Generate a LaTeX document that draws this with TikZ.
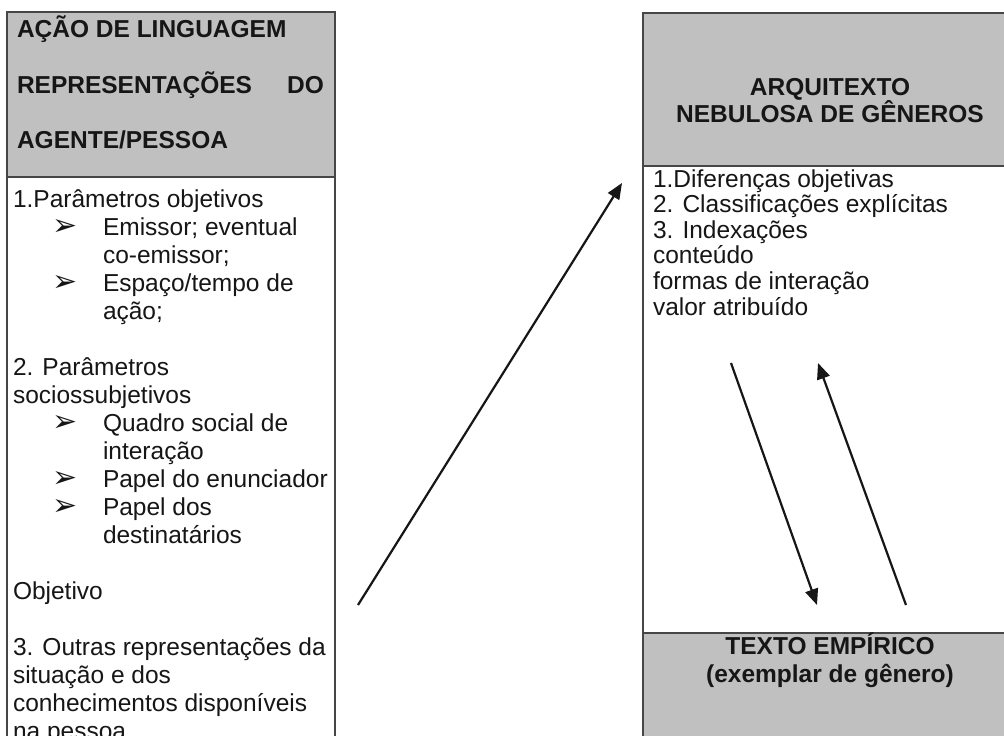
\documentclass[tikz,border=0pt]{standalone}
\usepackage{fontspec}
\setmainfont{Liberation Sans}
\newfontfamily\dejavu{DejaVu Sans}
\usetikzlibrary{arrows.meta}
\definecolor{hdrgray}{RGB}{192,192,192}
\definecolor{ink}{RGB}{22,22,22}
\definecolor{edge}{RGB}{70,70,70}
\newcommand{\bulsym}{{\dejavu\fontsize{30}{30}\selectfont ➢}}
\begin{document}
\begin{tikzpicture}[x=1pt,y=-1pt,
  txt/.style={anchor=base west, inner sep=0pt, outer sep=0pt, text=ink, font=\fontsize{24.5}{28}\selectfont},
  hd/.style={txt, font=\bfseries\fontsize{24.5}{28}\selectfont},
  ctr/.style={hd, anchor=base},
  bul/.style={anchor=base west, inner sep=0pt, outer sep=0pt, text=ink},
  arr/.style={line width=2.2pt, draw=ink, -{Triangle[length=16pt,width=13pt]}},
  boxline/.style={draw=edge, line width=1.6pt}]
\useasboundingbox (0,0) rectangle (1004,736);
\clip (0,0) rectangle (1004,736);
\fill[white] (0,0) rectangle (1004,736);

% ---------- left box ----------
\fill[hdrgray] (7,12) rectangle (335,177);
\draw[boxline] (7,770) -- (7,12) -- (335,12) -- (335,770);
\draw[boxline] (7,177) -- (335,177);

\node[hd] (lh1) at (17,37) {AÇÃO DE LINGUAGEM};
\node[hd] (lh2) at (17,93) {\hbox to 307pt{REPRESENTAÇÕES\hfil DO}};
\node[hd] (lh3) at (17,148) {AGENTE/PESSOA};

\node[txt] (l1)  at (13,207) {1.Parâmetros objetivos};
\node[bul] (b1)  at (52,235) {\bulsym};
\node[txt] (l2)  at (103,235) {Emissor; eventual};
\node[txt] (l3)  at (103,263) {co-emissor;};
\node[bul] (b2)  at (52,291) {\bulsym};
\node[txt] (l4)  at (103,291) {Espaço/tempo de};
\node[txt] (l5)  at (103,319) {ação;};
\node[txt] (l6)  at (13,375) {2. Parâmetros};
\node[txt] (l7)  at (13,403) {sociossubjetivos};
\node[bul] (b3)  at (52,431) {\bulsym};
\node[txt] (l8)  at (103,431) {Quadro social de};
\node[txt] (l9)  at (103,459) {interação};
\node[bul] (b4)  at (52,487) {\bulsym};
\node[txt] (l10) at (103,487) {Papel do enunciador};
\node[bul] (b5)  at (52,515) {\bulsym};
\node[txt] (l11) at (103,515) {Papel dos};
\node[txt] (l12) at (103,543) {destinatários};
\node[txt] (l13) at (13,599) {Objetivo};
\node[txt] (l14) at (13,655) {3. Outras representações da};
\node[txt] (l15) at (13,683) {situação e dos};
\node[txt] (l16) at (13,711) {conhecimentos disponíveis};
\node[txt] (l17) at (13,739) {na pessoa};

% ---------- right box ----------
\fill[hdrgray] (643,13) rectangle (1017,166);
\fill[hdrgray] (643,633) rectangle (1017,770);
\draw[boxline] (643,770) -- (643,13) -- (1017,13);
\draw[boxline] (643,166) -- (1017,166);
\draw[boxline] (643,633) -- (1017,633);

\node[ctr] (rh1) at (830,95) {ARQUITEXTO};
\node[ctr] (rh2) at (830,122) {NEBULOSA DE GÊNEROS};

\node[txt] (r1) at (653,187) {1.Diferenças objetivas};
\node[txt] (r2) at (653,212.6) {2. Classificações explícitas};
\node[txt] (r3) at (653,238.2) {3. Indexações};
\node[txt] (r4) at (653,263.8) {conteúdo};
\node[txt] (r5) at (653,289.4) {formas de interação};
\node[txt] (r6) at (653,315) {valor atribuído};

\node[ctr] (t1) at (830,654) {TEXTO EMPÍRICO};
\node[ctr] (t2) at (830,682) {(exemplar de gênero)};

% ---------- arrows ----------
\coordinate (m0) at (358,605);
\coordinate (m1) at (622,183);
\coordinate (d0) at (731,363);
\coordinate (d1) at (817,605);
\coordinate (u0) at (906,605);
\coordinate (u1) at (818,363);
\draw[arr] (m0) -- (m1);
\draw[arr] (d0) -- (d1);
\draw[arr] (u0) -- (u1);
\end{tikzpicture}
\end{document}
